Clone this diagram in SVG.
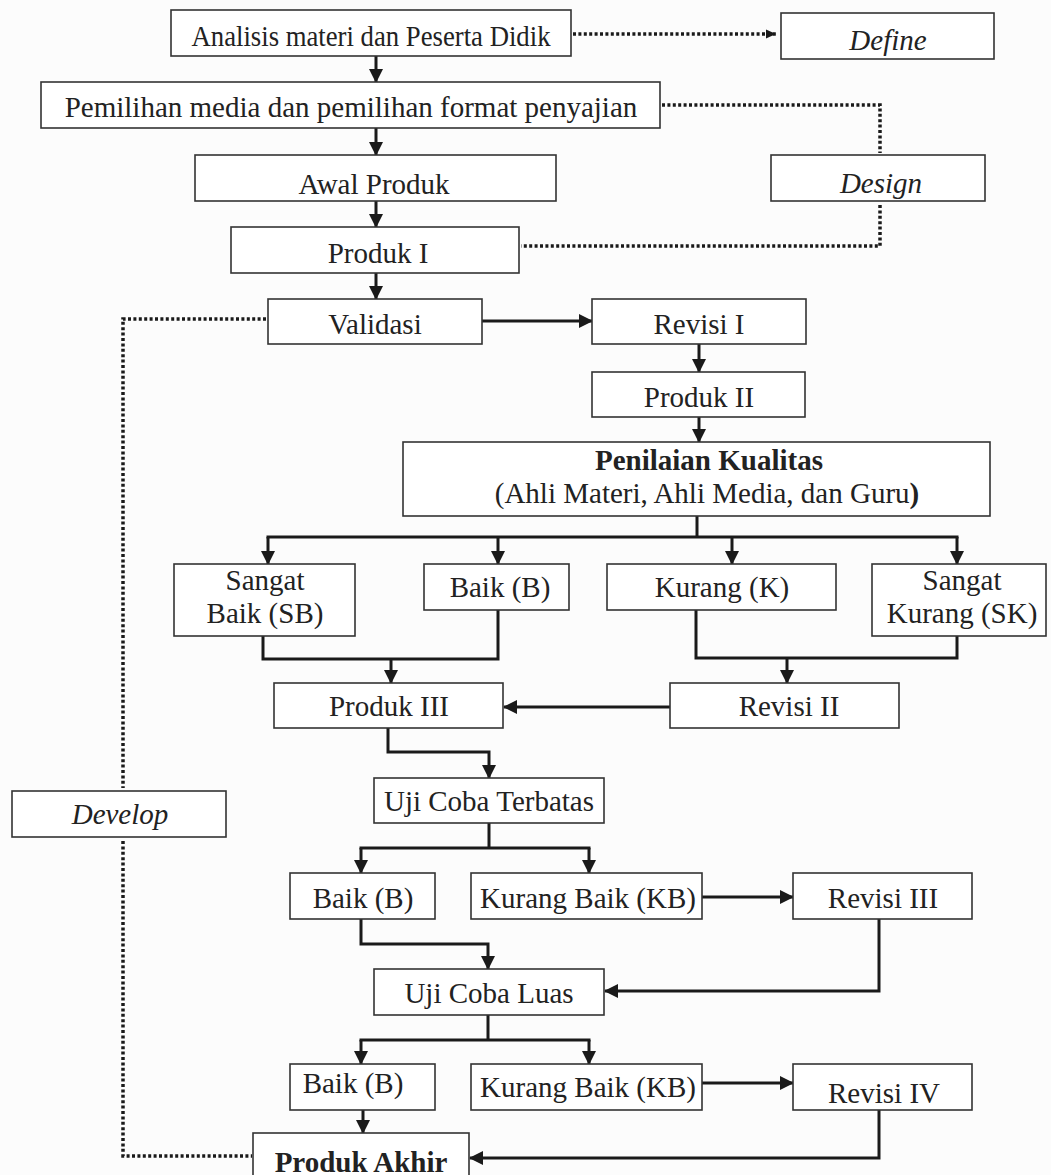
<svg xmlns="http://www.w3.org/2000/svg" width="1051" height="1175" viewBox="0 0 1051 1175">
<style>
.box{fill:#fff;stroke:#333;stroke-width:1.6}
text{font-family:"Liberation Serif","Times New Roman",serif;font-size:29px;fill:#222;text-anchor:middle}
.it{font-style:italic}
.b{font-weight:bold}
.ln{fill:none;stroke:#1a1a1a;stroke-width:3}
.dot{fill:none;stroke:#1a1a1a;stroke-width:3.5;stroke-dasharray:3 2.4}
</style>
<defs>
<marker id="ah" markerUnits="userSpaceOnUse" markerWidth="14" markerHeight="14" viewBox="0 0 14 14" refX="13" refY="7" orient="auto">
<path d="M0,0 L14,7 L0,14 z" fill="#1a1a1a"/>
</marker>
<marker id="ahs" markerUnits="userSpaceOnUse" markerWidth="10" markerHeight="10" viewBox="0 0 10 10" refX="10" refY="5" orient="auto">
<path d="M0,0.5 L10,5 L0,9.5 z" fill="#1a1a1a"/>
</marker>
</defs>
<rect width="1051" height="1175" fill="#fcfcfc"/>

<g id="connectors">
<path class="ln" marker-end="url(#ah)" d="M376,56 V82"/>
<path class="ln" marker-end="url(#ah)" d="M376,128 V155"/>
<path class="ln" marker-end="url(#ah)" d="M376,201 V227"/>
<path class="ln" marker-end="url(#ah)" d="M376,273 V299"/>
<path class="ln" marker-end="url(#ah)" d="M482,321 H592"/>
<path class="ln" marker-end="url(#ah)" d="M699,344 V372"/>
<path class="ln" marker-end="url(#ah)" d="M699,417 V442"/>
<path class="ln" d="M697,516 V537 M266.5,537 H958.5"/>
<path class="ln" marker-end="url(#ah)" d="M268,537 V564"/>
<path class="ln" marker-end="url(#ah)" d="M498,537 V564"/>
<path class="ln" marker-end="url(#ah)" d="M732,537 V564"/>
<path class="ln" marker-end="url(#ah)" d="M957,537 V564"/>
<path class="ln" d="M263,636 V659 H498 V610"/>
<path class="ln" marker-end="url(#ah)" d="M391,659 V683"/>
<path class="ln" d="M696,610 V658 H957 V636"/>
<path class="ln" marker-end="url(#ah)" d="M787,658 V683"/>
<path class="ln" marker-end="url(#ah)" d="M670,707 H504"/>
<path class="ln" marker-end="url(#ah)" d="M388,728 V752 H489 V778"/>
<path class="ln" d="M489,823 V848 M359.5,848 H590.5"/>
<path class="ln" marker-end="url(#ah)" d="M361,848 V873"/>
<path class="ln" marker-end="url(#ah)" d="M589,848 V873"/>
<path class="ln" marker-end="url(#ah)" d="M702,897 H793"/>
<path class="ln" marker-end="url(#ah)" d="M361,919 V944 H488 V969"/>
<path class="ln" marker-end="url(#ah)" d="M879,919 V991 H605"/>
<path class="ln" d="M488,1015 V1040 M359.5,1040 H590.5"/>
<path class="ln" marker-end="url(#ah)" d="M361,1040 V1064"/>
<path class="ln" marker-end="url(#ah)" d="M589,1040 V1064"/>
<path class="ln" marker-end="url(#ah)" d="M702,1083 H793"/>
<path class="ln" marker-end="url(#ah)" d="M363,1110 V1133"/>
<path class="ln" marker-end="url(#ah)" d="M879,1110 V1158 H470"/>
<path class="dot" marker-end="url(#ahs)" d="M573,34 H776"/>
<path class="dot" d="M662,105 H880 V153"/>
<path class="dot" d="M880,205 V246 H521"/>
<path class="dot" d="M266,319 H123 V788"/>
<path class="dot" d="M123,841 V1156 H252"/>
</g>

<g id="n-analisis"><rect class="box" x="171" y="10" width="400" height="46"/><text x="371" y="46" textLength="359" lengthAdjust="spacingAndGlyphs">Analisis materi dan Peserta Didik</text></g>
<g id="n-define"><rect class="box" x="781" y="13" width="213" height="46"/><text class="it" x="888" y="50">Define</text></g>
<g id="n-pemilihan"><rect class="box" x="41" y="82" width="619" height="46"/><text x="351" y="117">Pemilihan media dan pemilihan format penyajian</text></g>
<g id="n-awal"><rect class="box" x="195" y="155" width="361" height="46"/><text x="374" y="194">Awal Produk</text></g>
<g id="n-design"><rect class="box" x="771" y="155" width="214" height="46"/><text class="it" x="881" y="193">Design</text></g>
<g id="n-produk1"><rect class="box" x="231" y="227" width="288" height="46"/><text x="378" y="263">Produk I</text></g>
<g id="n-validasi"><rect class="box" x="268" y="299" width="214" height="45"/><text x="375" y="334">Validasi</text></g>
<g id="n-revisi1"><rect class="box" x="592" y="299" width="214" height="45"/><text x="699" y="334">Revisi I</text></g>
<g id="n-produk2"><rect class="box" x="592" y="372" width="213" height="45"/><text x="699" y="407">Produk II</text></g>
<g id="n-penilaian"><rect class="box" x="403" y="442" width="587" height="74"/><text class="b" x="709" y="470">Penilaian Kualitas</text><text x="707" y="503">(Ahli Materi, Ahli Media, dan Guru<tspan class="b">)</tspan></text></g>
<g id="n-sb"><rect class="box" x="174" y="564" width="181" height="72"/><text x="265" y="590">Sangat</text><text x="265" y="623">Baik (SB)</text></g>
<g id="n-b"><rect class="box" x="424" y="564" width="145" height="46"/><text x="500" y="597">Baik (B)</text></g>
<g id="n-k"><rect class="box" x="607" y="564" width="229" height="46"/><text x="722" y="597">Kurang (K)</text></g>
<g id="n-sk"><rect class="box" x="872" y="564" width="174" height="72"/><text x="962" y="590">Sangat</text><text x="962" y="623">Kurang (SK)</text></g>
<g id="n-produk3"><rect class="box" x="274" y="683" width="229" height="45"/><text x="389" y="716">Produk III</text></g>
<g id="n-revisi2"><rect class="box" x="670" y="683" width="229" height="45"/><text x="789" y="716">Revisi II</text></g>
<g id="n-develop"><rect class="box" x="12" y="791" width="214" height="46"/><text class="it" x="120" y="824">Develop</text></g>
<g id="n-ujiterbatas"><rect class="box" x="374" y="778" width="230" height="45"/><text x="489" y="811">Uji Coba Terbatas</text></g>
<g id="n-b2"><rect class="box" x="290" y="873" width="145" height="46"/><text x="363" y="908">Baik (B)</text></g>
<g id="n-kb1"><rect class="box" x="471" y="873" width="231" height="46"/><text x="588" y="908">Kurang Baik (KB)</text></g>
<g id="n-revisi3"><rect class="box" x="793" y="873" width="179" height="46"/><text x="883" y="908">Revisi III</text></g>
<g id="n-ujiluas"><rect class="box" x="374" y="969" width="230" height="46"/><text x="489" y="1003">Uji Coba Luas</text></g>
<g id="n-b3"><rect class="box" x="290" y="1064" width="145" height="46"/><text x="353" y="1093">Baik (B)</text></g>
<g id="n-kb2"><rect class="box" x="471" y="1064" width="231" height="46"/><text x="588" y="1097">Kurang Baik (KB)</text></g>
<g id="n-revisi4"><rect class="box" x="793" y="1064" width="179" height="46"/><text x="884" y="1103">Revisi IV</text></g>
<g id="n-akhir"><rect class="box" x="253" y="1133" width="216" height="60"/><text class="b" x="361" y="1172">Produk Akhir</text></g>
</svg>
